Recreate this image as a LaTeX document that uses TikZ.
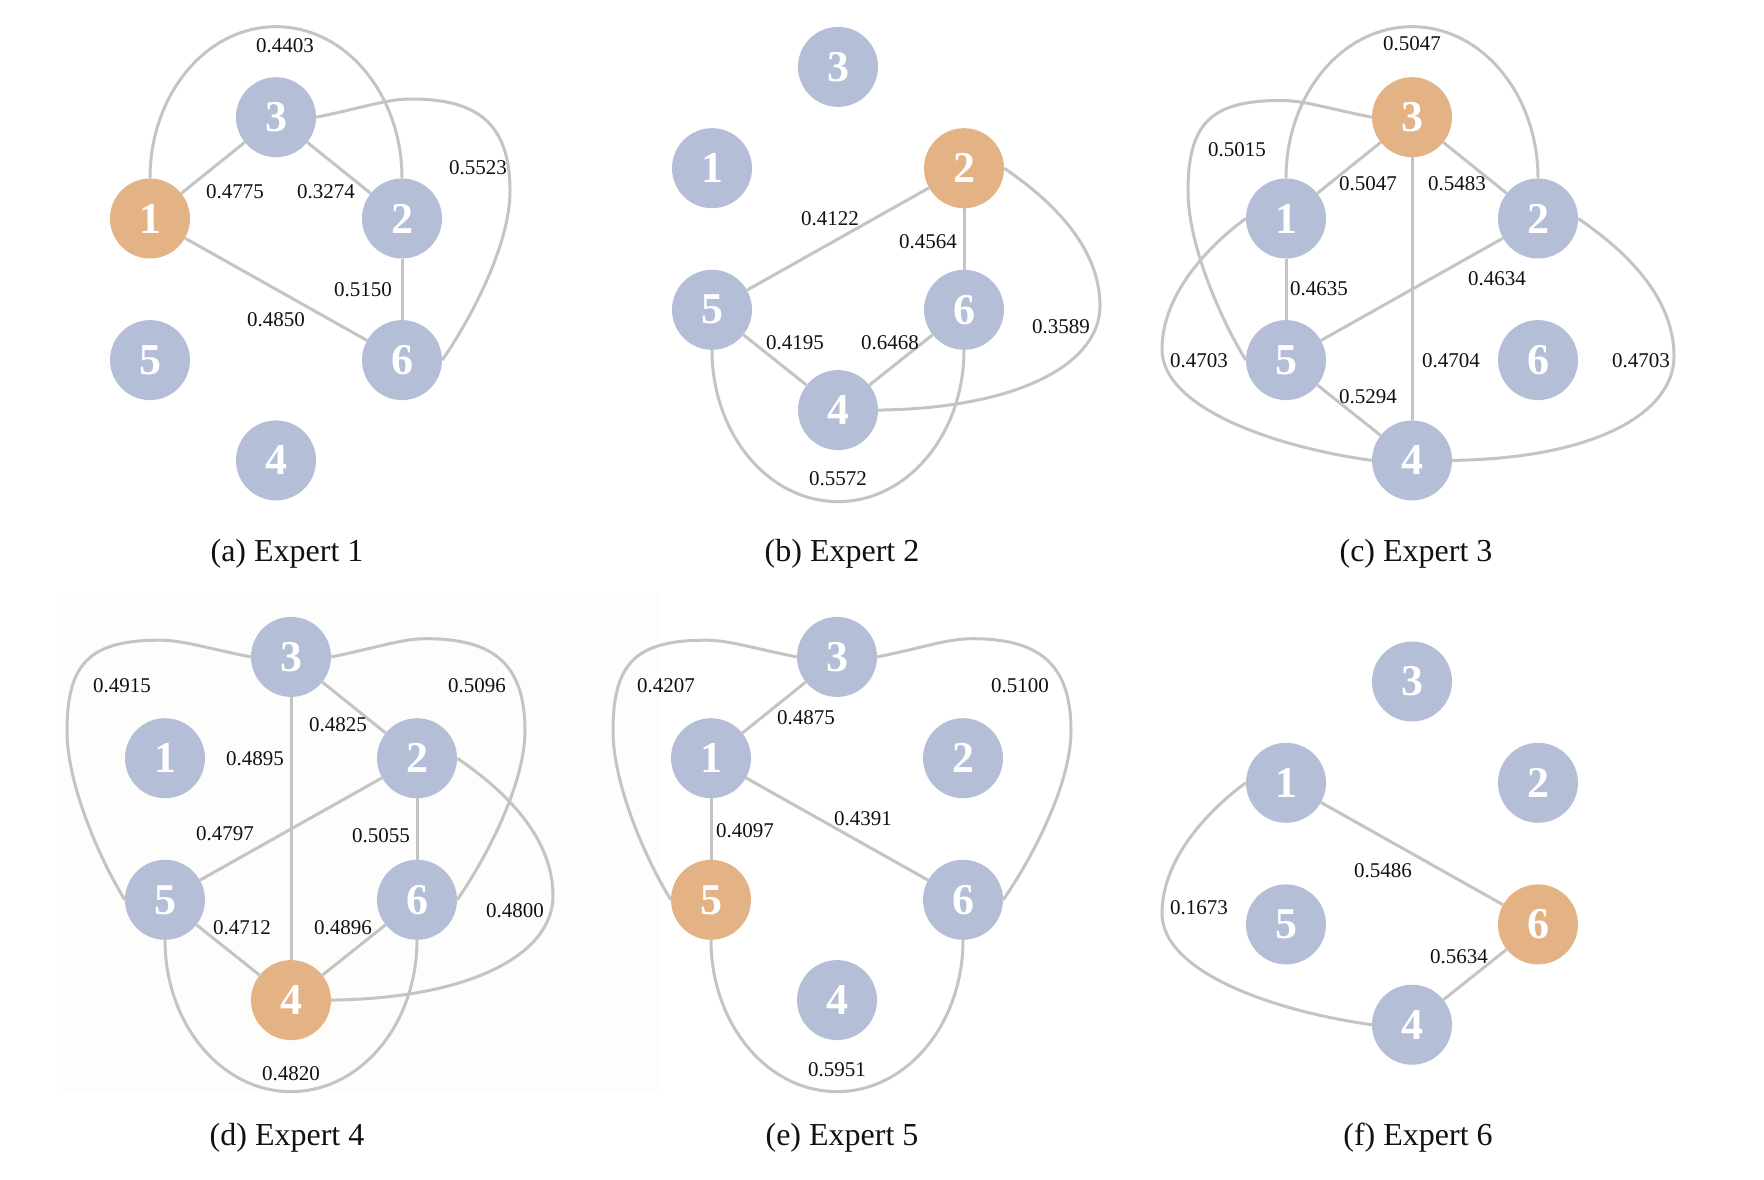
\documentclass[tikz,border=0pt]{standalone}
\usepackage{fontspec}
\setmainfont{Liberation Serif}
\usetikzlibrary{calc}
\definecolor{nodeblue}{HTML}{B4BED6}
\definecolor{nodeorange}{HTML}{E3B386}
\definecolor{edgegray}{HTML}{C4C4C4}
\definecolor{panelbg}{HTML}{FDFDFC}
\definecolor{txt}{HTML}{111111}

\tikzset{
  vtx/.style={circle, inner sep=0pt, minimum size=80pt, fill=nodeblue, text=white,
    font=\bfseries\fontsize{44}{44}\selectfont},
  hot/.style={vtx, fill=nodeorange},
  edge/.style={draw=edgegray, line width=3pt},
  wlabel/.style={inner sep=0pt, text=txt, font=\fontsize{21}{21}\selectfont},
  captxt/.style={inner sep=0pt, anchor=base, text=txt, font=\fontsize{32}{32}\selectfont},
}

% six nodes of one panel, in local coordinates (node 3 at the origin)
\newcommand\mknodes[2]{%
  \foreach \k/\px/\py in {3/0/0,1/-126/101.3,2/126/101.3,5/-126/242.9,6/126/242.9,4/0/343.2}{%
    \ifnum\k=#2\relax \node[hot] (#1-\k) at (\px,\py) {\k};%
    \else \node[vtx] (#1-\k) at (\px,\py) {\k};\fi}}

% curved connectors, local coordinates
\newcommand\cTop[1]{\draw[edge] (#1-1.north) .. controls (-126,-22.5) and (-70,-90.5) .. (0,-90.5)
  .. controls (70,-90.5) and (126,-22.5) .. (#1-2.north);}
\newcommand\cBot[1]{\draw[edge] (#1-5.south) .. controls (-126,366.7) and (-70,434.7) .. (0,434.7)
  .. controls (70,434.7) and (126,366.7) .. (#1-6.south);}
\newcommand\cRight[1]{\draw[edge] (#1-3.east) .. controls (85,-8.9) and (110,-18.2) .. (135,-18.2)
  .. controls (200,-18.2) and (234,4.9) .. (234,73.8)
  .. controls (234,128.8) and (193,204.5) .. (#1-6.east);}
\newcommand\cLeft[1]{\draw[edge] (#1-3.west) .. controls (-85,-8.9) and (-108,-16.7) .. (-131,-16.7)
  .. controls (-200,-16.7) and (-224,4.9) .. (-224,73.8)
  .. controls (-224,128.8) and (-190,204.5) .. (#1-5.west);}
\newcommand\cRightLow[1]{\draw[edge] (#1-2.east) .. controls (205,127.8) and (262,175) .. (262,239)
  .. controls (262,295) and (185,341.2) .. (#1-4.east);}
\newcommand\cLeftLow[1]{\draw[edge] (#1-1.west) .. controls (-200,125.9) and (-250,175) .. (-250,232)
  .. controls (-250,290) and (-140,329.4) .. (#1-4.west);}

\newcommand\lbl[3]{\node[wlabel] (l-#1-#2) at (#1,#2) {#3};}

\begin{document}
\begin{tikzpicture}[x=1pt, y=-1pt]
\useasboundingbox (0,0) rectangle (1764,1180);
\fill[white] (0,0) rectangle (1764,1180);
\fill[panelbg] (62,592) rectangle (660,1091);

% (a) Expert 1
\begin{scope}[shift={(276,117.2)}]
  \mknodes{a}{1}
  \draw[edge] (a-1) -- (a-3);
  \draw[edge] (a-3) -- (a-2);
  \draw[edge] (a-2) -- (a-6);
  \draw[edge] (a-1) -- (a-6);
  \cTop{a}
  \cRight{a}
\end{scope}

% (b) Expert 2
\begin{scope}[shift={(838,66.9)}]
  \mknodes{b}{2}
  \draw[edge] (b-2) -- (b-5);
  \draw[edge] (b-2) -- (b-6);
  \draw[edge] (b-5) -- (b-4);
  \draw[edge] (b-6) -- (b-4);
  \cBot{b}
  \cRightLow{b}
\end{scope}

% (c) Expert 3
\begin{scope}[shift={(1412,117.2)}]
  \mknodes{c}{3}
  \draw[edge] (c-3) -- (c-1);
  \draw[edge] (c-3) -- (c-2);
  \draw[edge] (c-3) -- (c-4);
  \draw[edge] (c-1) -- (c-5);
  \draw[edge] (c-2) -- (c-5);
  \draw[edge] (c-5) -- (c-4);
  \cTop{c}
  \cLeft{c}
  \cLeftLow{c}
  \cRightLow{c}
\end{scope}

% (d) Expert 4
\begin{scope}[shift={(291,656.9)}]
  \mknodes{d}{4}
  \draw[edge] (d-3) -- (d-2);
  \draw[edge] (d-3) -- (d-4);
  \draw[edge] (d-2) -- (d-5);
  \draw[edge] (d-2) -- (d-6);
  \draw[edge] (d-5) -- (d-4);
  \draw[edge] (d-6) -- (d-4);
  \cLeft{d}
  \cRight{d}
  \cBot{d}
  \cRightLow{d}
\end{scope}

% (e) Expert 5
\begin{scope}[shift={(837,656.9)}]
  \mknodes{e}{5}
  \draw[edge] (e-3) -- (e-1);
  \draw[edge] (e-1) -- (e-5);
  \draw[edge] (e-1) -- (e-6);
  \cLeft{e}
  \cRight{e}
  \cBot{e}
\end{scope}

% (f) Expert 6
\begin{scope}[shift={(1412,681.5)}]
  \mknodes{f}{6}
  \draw[edge] (f-1) -- (f-6);
  \draw[edge] (f-6) -- (f-4);
  \cLeftLow{f}
\end{scope}

% weights (a)
\lbl{285}{45.2}{0.4403}
\lbl{235}{191.8}{0.4775}
\lbl{326}{191.8}{0.3274}
\lbl{478}{167.2}{0.5523}
\lbl{363}{290.1}{0.5150}
\lbl{276}{319.6}{0.4850}
% weights (b)
\lbl{830}{218.3}{0.4122}
\lbl{928}{241.9}{0.4564}
\lbl{795}{342.2}{0.4195}
\lbl{890}{342.2}{0.6468}
\lbl{1061}{326.5}{0.3589}
\lbl{838}{478.9}{0.5572}
% weights (c)
\lbl{1412}{43.3}{0.5047}
\lbl{1237}{149.5}{0.5015}
\lbl{1368}{183.9}{0.5047}
\lbl{1457}{183.9}{0.5483}
\lbl{1319}{289.1}{0.4635}
\lbl{1497}{278.3}{0.4634}
\lbl{1199}{360.9}{0.4703}
\lbl{1451}{360.9}{0.4704}
\lbl{1641}{360.9}{0.4703}
\lbl{1368}{396.3}{0.5294}
% weights (d)
\lbl{122}{685.4}{0.4915}
\lbl{477}{685.4}{0.5096}
\lbl{338}{724.7}{0.4825}
\lbl{255}{759.1}{0.4895}
\lbl{225}{833.9}{0.4797}
\lbl{381}{835.9}{0.5055}
\lbl{515}{910.6}{0.4800}
\lbl{242}{927.3}{0.4712}
\lbl{343}{927.3}{0.4896}
\lbl{291}{1073.8}{0.4820}
% weights (e)
\lbl{666}{685.4}{0.4207}
\lbl{1020}{685.4}{0.5100}
\lbl{806}{717.8}{0.4875}
\lbl{863}{818.2}{0.4391}
\lbl{745}{830.9}{0.4097}
\lbl{837}{1069.9}{0.5951}
% weights (f)
\lbl{1383}{870.3}{0.5486}
\lbl{1199}{907.6}{0.1673}
\lbl{1459}{956.8}{0.5634}

% captions
\node[captxt] (capa) at (287,561.5) {(a) Expert 1};
\node[captxt] (capb) at (842,561.5) {(b) Expert 2};
\node[captxt] (capc) at (1416,561.5) {(c) Expert 3};
\node[captxt] (capd) at (287,1145.3) {(d) Expert 4};
\node[captxt] (cape) at (842,1145.3) {(e) Expert 5};
\node[captxt] (capf) at (1418,1145.3) {(f) Expert 6};
\end{tikzpicture}
\end{document}
